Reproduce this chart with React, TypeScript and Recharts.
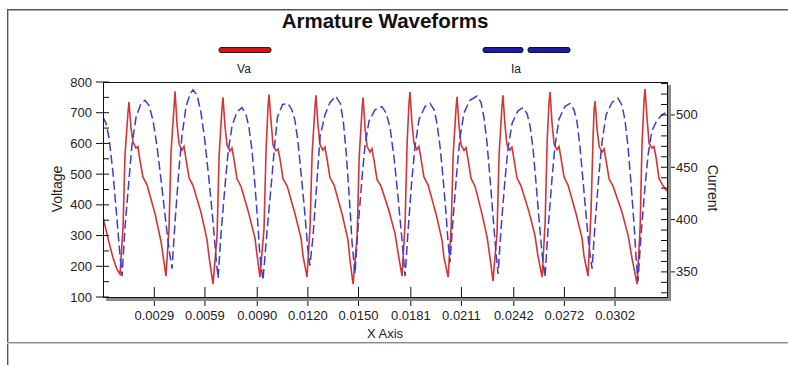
import { LineChart, Line, XAxis, YAxis } from "recharts";

// time in ms, armature voltage Va (V)
const VA_T = [
  -0.14, 0.16, 0.45, 0.69,
  0.87, 1.05, 1.16, 1.34, 1.4, 1.52, 1.64, 1.81, 1.93, 2.05, 2.23, 2.47, 2.94, 3.3, 3.42,
  3.59, 3.77, 3.89, 4.07, 4.13, 4.25, 4.37, 4.54, 4.66, 4.78, 4.96, 5.2, 5.67, 6.03, 6.14,
  6.38, 6.62, 6.74, 6.91, 6.97, 7.09, 7.21, 7.38, 7.5, 7.62, 7.8, 8.04, 8.51, 8.87, 8.98,
  9.16, 9.4, 9.52, 9.64, 9.7, 9.82, 9.94, 10.11, 10.23, 10.35, 10.53, 10.77, 11.24, 11.6, 11.71,
  11.95, 12.13, 12.25, 12.42, 12.48, 12.6, 12.72, 12.89, 13.01, 13.13, 13.31, 13.55, 14.02, 14.38, 14.49,
  14.68, 14.92, 15.04, 15.21, 15.27, 15.39, 15.51, 15.68, 15.8, 15.92, 16.1, 16.34, 16.81, 17.17, 17.34,
  17.58, 17.76, 17.88, 17.99, 18.05, 18.17, 18.29, 18.46, 18.58, 18.7, 18.88, 19.12, 19.59, 19.95, 20.06,
  20.31, 20.49, 20.61, 20.78, 20.84, 20.96, 21.08, 21.25, 21.37, 21.49, 21.67, 21.91, 22.32, 22.62, 22.8,
  22.97, 23.21, 23.33, 23.5, 23.56, 23.68, 23.8, 23.97, 24.09, 24.21, 24.39, 24.63, 25.1, 25.46, 25.63,
  25.88, 26.06, 26.18, 26.29, 26.35, 26.47, 26.59, 26.76, 26.88, 27.0, 27.18, 27.42, 27.89, 28.25, 28.36,
  28.6, 28.78, 28.9, 28.96, 29.02, 29.14, 29.26, 29.43, 29.55, 29.67, 29.85, 30.09, 30.62, 30.98, 31.21,
  31.51, 31.69, 31.8, 31.92, 31.98, 32.1, 32.22, 32.39, 32.51, 32.63, 32.81, 33.05, 33.28,
];
const VA_V = [
  360, 290, 228, 190,
  175, 330, 560, 700, 735, 650, 605, 585, 590, 545, 490, 465, 372, 280, 235,
  168, 320, 570, 720, 770, 660, 598, 578, 590, 548, 488, 462, 375, 285, 232,
  142, 300, 560, 715, 750, 655, 595, 575, 585, 550, 485, 460, 370, 290, 240,
  165, 321, 572, 722, 760, 670, 593, 576, 582, 550, 484, 462, 370, 290, 235,
  165, 330, 565, 718, 757, 660, 596, 578, 588, 552, 488, 465, 372, 285, 222,
  142, 300, 555, 712, 750, 650, 590, 572, 583, 545, 482, 460, 380, 305, 245,
  168, 340, 600, 730, 767, 665, 600, 580, 590, 552, 490, 465, 372, 285, 230,
  165, 325, 565, 715, 752, 655, 595, 577, 586, 548, 486, 460, 370, 295, 225,
  152, 310, 565, 720, 757, 660, 596, 578, 588, 550, 488, 462, 378, 300, 235,
  165, 345, 610, 735, 767, 665, 598, 580, 590, 552, 490, 464, 372, 290, 235,
  168, 380, 620, 710, 738, 645, 590, 572, 582, 545, 484, 460, 375, 300, 225,
  142, 330, 600, 740, 777, 680, 600, 585, 590, 555, 485, 462, 445,
];

// time in ms, armature current Ia (A)
const IA_T = [
  -0.14, 0.04, 0.22, 0.45, 0.69, 0.87,
  0.99, 1.16, 1.4, 1.58, 1.82, 2.11, 2.35, 2.59, 2.82, 3.06, 3.3, 3.53, 3.77,
  3.95, 4.13, 4.36, 4.54, 4.78, 5.02, 5.19, 5.43, 5.66, 5.9, 6.14, 6.38, 6.55,
  6.68, 6.86, 7.09, 7.27, 7.51, 7.8, 8.1, 8.34, 8.51, 8.69, 8.87, 9.04, 9.16,
  9.34, 9.58, 9.85, 10.02, 10.2, 10.5, 10.82, 11.05, 11.23, 11.4, 11.64, 11.82, 11.99,
  12.12, 12.3, 12.54, 12.72, 13.01, 13.31, 13.65, 13.92, 14.1, 14.28, 14.46, 14.62,
  14.79, 14.97, 15.21, 15.38, 15.62, 15.98, 16.39, 16.63, 16.87, 17.1, 17.34, 17.58,
  17.76, 17.94, 18.17, 18.35, 18.59, 18.94, 19.24, 19.48, 19.65, 19.83, 20.01, 20.19, 20.3,
  20.42, 20.6, 20.84, 21.01, 21.25, 21.6, 22.02, 22.26, 22.43, 22.61, 22.79, 22.97, 23.15,
  23.27, 23.45, 23.68, 23.86, 24.1, 24.45, 24.75, 24.99, 25.16, 25.34, 25.52, 25.7, 25.87,
  26.05, 26.23, 26.46, 26.64, 26.88, 27.23, 27.53, 27.77, 27.95, 28.12, 28.3, 28.48, 28.66,
  28.84, 29.02, 29.25, 29.43, 29.67, 30.02, 30.38, 30.62, 30.79, 30.97, 31.15, 31.33, 31.44,
  31.56, 31.74, 31.98, 32.16, 32.39, 32.69, 32.98, 33.28,
];
const IA_I = [
  498, 492, 478, 445, 400, 365,
  346, 392, 438, 472, 498, 511, 514, 509, 495, 470, 438, 405, 372,
  353, 398, 448, 480, 508, 520, 524, 519, 503, 475, 438, 398, 365,
  344, 388, 432, 464, 490, 503, 507, 500, 488, 466, 432, 395, 365,
  342, 389, 437, 469, 498, 510, 511, 505, 495, 476, 437, 406, 373,
  356, 383, 437, 479, 500, 512, 518, 511, 494, 462, 420, 378,
  348, 392, 440, 470, 494, 505, 508, 502, 488, 460, 422, 380,
  346, 390, 440, 470, 496, 508, 511, 505, 492, 470, 440, 405, 380,
  359, 400, 448, 478, 502, 514, 518, 512, 498, 474, 440, 403, 368,
  348, 392, 438, 468, 492, 504, 507, 501, 490, 468, 435, 400, 368,
  345, 390, 438, 470, 496, 508, 511, 505, 493, 470, 438, 405, 374,
  353, 396, 444, 474, 500, 512, 516, 509, 495, 470, 434, 395, 365,
  341, 385, 432, 462, 485, 495, 500, 503,
];

const X_TICKS = [2.9, 5.9, 9.0, 12.0, 15.0, 18.1, 21.1, 24.2, 27.2, 30.2];
const V_TICKS = [100, 150, 200, 250, 300, 350, 400, 450, 500, 550, 600, 650, 700, 750, 800];
const I_TICKS = [330, 340, 350, 360, 370, 380, 390, 400, 410, 420, 430, 440, 450, 460, 470, 480, 490, 500, 510, 520, 530];

const vaData = VA_T.map((t, i) => ({ t, va: VA_V[i] }));
const iaData = IA_T.map((t, i) => ({ t, ia: IA_I[i] }));

const W = 788;
const H = 365;
const PL = 103;
const PR = 667;
const PT = 82;
const PB = 297;
const FONT = "'Liberation Sans', Arial, sans-serif";

function XTick(props: any) {
  const { x, payload } = props;
  return (
    <g>
      <line x1={x} x2={x} y1={PB - 10} y2={PB + 9} stroke="#111" />
      <text x={x} y={320} textAnchor="middle" fontSize={13} fontFamily={FONT} fill="#222">
        {(payload.value / 1000).toFixed(4)}
      </text>
    </g>
  );
}

function VTick(props: any) {
  const { y, payload } = props;
  const major = payload.value % 100 === 0;
  return (
    <g>
      <line x1={major ? PL - 7 : PL} x2={PL + 6} y1={y} y2={y} stroke="#111" />
      {major && (
        <text x={PL - 11} y={y} dy={4.5} textAnchor="end" fontSize={13} fontFamily={FONT} fill="#222">
          {payload.value}
        </text>
      )}
    </g>
  );
}

function ITick(props: any) {
  const { y, payload } = props;
  const major = payload.value % 50 === 0;
  return (
    <g>
      <line x1={PR - 6} x2={major ? PR + 8 : PR} y1={y} y2={y} stroke="#111" />
      {major && (
        <text x={PR + 9} y={y} dy={4.5} textAnchor="start" fontSize={13} fontFamily={FONT} fill="#222">
          {payload.value}
        </text>
      )}
    </g>
  );
}

export default function App() {
  return (
    <div style={{ position: "absolute", left: 0, top: 0, width: W, height: H, background: "#fff" }}>
      <LineChart width={W} height={H} margin={{ top: PT, right: 70, bottom: 38, left: 43 }}>
        <XAxis
          type="number"
          dataKey="t"
          domain={[-0.14, 33.28]}
          ticks={X_TICKS}
          interval={0}
          allowDataOverflow
          height={30}
          axisLine={false}
          tickLine={false}
          tick={XTick}
        />
        <YAxis
          yAxisId="v"
          width={60}
          domain={[100, 800]}
          ticks={V_TICKS}
          interval={0}
          allowDataOverflow
          axisLine={false}
          tickLine={false}
          tick={VTick}
        />
        <YAxis
          yAxisId="i"
          orientation="right"
          width={51}
          domain={[326, 531.5]}
          ticks={I_TICKS}
          interval={0}
          allowDataOverflow
          axisLine={false}
          tickLine={false}
          tick={ITick}
        />
        <Line
          yAxisId="v"
          data={vaData}
          dataKey="va"
          type="linear"
          stroke="#d63434"
          strokeWidth={1.6}
          dot={false}
          isAnimationActive={false}
        />
        <Line
          yAxisId="i"
          data={iaData}
          dataKey="ia"
          type="linear"
          stroke="#3c3cd0"
          strokeWidth={1.5}
          strokeDasharray="9 4"
          dot={false}
          isAnimationActive={false}
        />
      </LineChart>

      <svg
        width={W}
        height={H}
        style={{ position: "absolute", left: 0, top: 0, pointerEvents: "none" }}
        fontFamily={FONT}
      >
        {/* outer frame */}
        <line x1={7} x2={W} y1={9.5} y2={9.5} stroke="#555" />
        <line x1={7} x2={W} y1={10.5} y2={10.5} stroke="#aaa" />
        <line x1={7.5} x2={7.5} y1={9} y2={H} stroke="#555" />
        <line x1={8.5} x2={8.5} y1={11} y2={H} stroke="#bbb" />
        <line x1={7} x2={W} y1={342.5} y2={342.5} stroke="#888" />
        <line x1={7} x2={W} y1={343.5} y2={343.5} stroke="#ccc" />

        {/* plot box with shadow */}
        <rect x={PR + 1} y={PT + 3} width={3} height={PB - PT + 1} fill="#8a8a8a" />
        <rect x={PL + 3} y={PB + 1} width={PR - PL + 1} height={3} fill="#8a8a8a" />
        <rect x={PL + 0.5} y={PT + 0.5} width={PR - PL} height={PB - PT} fill="none" stroke="#111" />

        {/* title */}
        <text x={385} y={28} textAnchor="middle" fontSize={20.5} fontWeight="bold" fill="#111">
          Armature Waveforms
        </text>

        {/* legend */}
        <rect x={219} y={47.5} width={52} height={5} rx={2} fill="#d41414" stroke="#222" />
        <text x={244} y={73} textAnchor="middle" fontSize={12} fill="#222">Va</text>
        <rect x={483} y={47.5} width={40} height={5} rx={2} fill="#1c1ca8" stroke="#111" />
        <rect x={528} y={47.5} width={42} height={5} rx={2} fill="#1c1ca8" stroke="#111" />
        <text x={516} y={73} textAnchor="middle" fontSize={12} fill="#222">Ia</text>

        {/* axis titles */}
        <text x={62} y={189} transform="rotate(-90 62 189)" textAnchor="middle" fontSize={14} fill="#222">
          Voltage
        </text>
        <text x={708} y={188} transform="rotate(90 708 188)" textAnchor="middle" fontSize={14} fill="#222">
          Current
        </text>
        <text x={385} y={338} textAnchor="middle" fontSize={13} fill="#222">
          X Axis
        </text>
      </svg>
    </div>
  );
}
